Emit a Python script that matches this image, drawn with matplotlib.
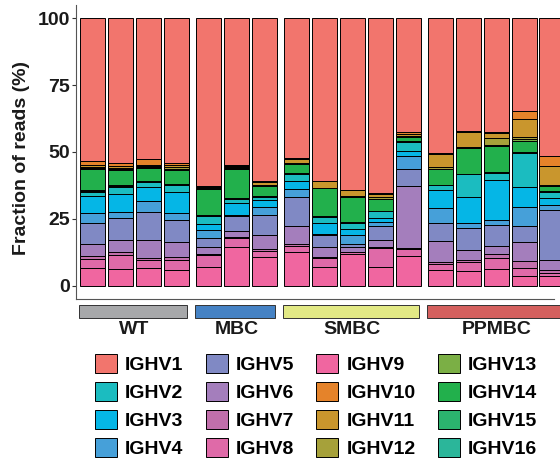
import matplotlib.pyplot as plt
import matplotlib.transforms as mtransforms
from matplotlib.patches import Rectangle, Patch

plt.rcParams['font.family'] = ['Liberation Sans', 'DejaVu Sans']
plt.rcParams['font.weight'] = 'bold'

groups = ["WT", "MBC", "SMBC", "PPMBC"]
group_sizes = [4, 3, 5, 5]
group_colors = ["#A7A8AA", "#4582C4", "#E2E985", "#D4605E"]

genes = ["IGHV%d" % i for i in range(1, 17)]
gene_colors = ["#F2756D", "#1BBCC0", "#05B6E6", "#46A0D9", "#8089C4", "#A47EBC",
               "#C16FAB", "#DF6AA8", "#F066A0", "#E5832A", "#C9962D", "#A6A13A",
               "#7BAF45", "#22B04C", "#2BB36E", "#2BB69A"]

# fraction of reads (%) per sample, WT x4, MBC x3, SMBC x5, PPMBC x5
ighv1 = [53.4, 54.0, 52.6, 54.3, 62.8, 55.0, 60.8, 52.3, 60.8, 64.2, 65.2, 42.5, 50.4, 42.3, 42.5, 34.8, 51.4]
ighv2 = [1.5, 2.9, 1.7, 2.8, 2.9, 1.5, 1.0, 2.7, 2.2, 2.3, 2.4, 3.5, 1.9, 8.4, 2.8, 12.9, 2.3]
ighv3 = [6.3, 6.5, 5.4, 8.0, 2.2, 4.3, 2.9, 2.8, 4.3, 2.1, 1.7, 1.9, 6.5, 9.7, 14.7, 7.3, 2.5]
ighv4 = [3.7, 2.2, 4.1, 2.5, 3.1, 0.4, 2.7, 3.1, 0.3, 3.4, 1.5, 4.7, 5.6, 1.9, 1.9, 7.3, 2.1]
ighv5 = [7.9, 8.5, 10.3, 8.1, 3.2, 5.9, 7.8, 10.7, 4.4, 1.2, 5.2, 6.5, 6.9, 8.1, 7.8, 5.8, 18.7]
ighv6 = [4.4, 4.3, 6.8, 5.7, 2.5, 2.0, 5.1, 6.8, 3.7, 1.9, 2.6, 23.1, 7.7, 3.8, 3.1, 7.0, 3.5]
ighv7 = [1.1, 1.2, 0.9, 1.0, 0.5, 0.4, 0.9, 1.0, 0.5, 0.2, 0.5, 0.3, 0.8, 1.0, 1.5, 2.8, 1.2]
ighv8 = [3.5, 5.2, 2.9, 3.7, 4.5, 3.5, 2.2, 2.1, 3.4, 0.4, 6.9, 2.8, 2.2, 3.1, 4.2, 3.1, 1.3]
ighv9 = [6.6, 6.2, 6.6, 6.0, 7.0, 14.4, 10.6, 12.6, 7.0, 12.0, 7.0, 11.0, 5.9, 5.6, 6.2, 3.5, 3.5]
ighv10 = [1.6, 1.3, 2.1, 0.6, 0.3, 0.3, 0.6, 0.3, 0.2, 0.2, 0.5, 0.8, 0.3, 0.4, 0.4, 2.8, 3.7]
ighv11 = [0.5, 0.5, 0.4, 0.7, 0.3, 0.3, 0.8, 1.5, 2.3, 2.2, 1.3, 0.6, 5.1, 5.4, 1.9, 6.9, 7.1]
ighv12 = [0.5, 0.5, 0.4, 0.6, 0.3, 0.3, 0.4, 0.2, 0.1, 0.1, 0.5, 0.1, 0.6, 0.3, 2.5, 0.8, 0.3]
ighv13 = [0.5, 0.5, 0.4, 0.6, 0.3, 0.3, 0.2, 0.2, 0.1, 0.1, 0.1, 0.5, 0.1, 0.2, 0.3, 0.7, 0.3]
ighv14 = [7.9, 5.7, 5.0, 5.0, 9.7, 11.0, 3.8, 3.5, 10.5, 9.5, 4.4, 1.5, 5.9, 9.6, 10.0, 4.1, 1.9]
ighv15 = [0.3, 0.3, 0.2, 0.2, 0.2, 0.2, 0.1, 0.1, 0.1, 0.1, 0.1, 0.1, 0.1, 0.1, 0.1, 0.1, 0.1]
ighv16 = [0.3, 0.2, 0.2, 0.2, 0.2, 0.2, 0.1, 0.1, 0.1, 0.1, 0.1, 0.1, 0.1, 0.1, 0.1, 0.1, 0.1]

values = [ighv1, ighv2, ighv3, ighv4, ighv5, ighv6, ighv7, ighv8, ighv9, ighv10,
          ighv11, ighv12, ighv13, ighv14, ighv15, ighv16]

# bottom -> top stacking (ggplot string order reversed)
stack_order = [9, 8, 7, 6, 5, 4, 3, 2, 16, 15, 14, 13, 12, 11, 10, 1]

# x positions with a small gap between groups
gap = 0.16
xpos = []
group_span = []
start = 0.0
for n in group_sizes:
    xs = [start + k for k in range(n)]
    xpos += xs
    group_span.append((xs[0], xs[-1]))
    start = xs[-1] + 1 + gap

fig = plt.figure(figsize=(5.6, 4.72), dpi=100)
ax = fig.add_axes([76 / 560, 1 - 299 / 472, 478 / 560, 294 / 472])

bottom = [0.0] * len(xpos)
for g in stack_order:
    vals = values[g - 1]
    ax.bar(xpos, vals, bottom=bottom, width=0.9, color=gene_colors[g - 1],
           edgecolor="black", linewidth=0.7, clip_on=False)
    bottom = [b + v for b, v in zip(bottom, vals)]

ax.set_xlim(-0.59, xpos[-1] + 0.07)
ax.set_ylim(-5, 105)
ax.set_yticks([0, 25, 50, 75, 100])
ax.set_xticks([])
ax.tick_params(axis="y", length=3, width=0.8, color="#333333", pad=1.5,
               labelsize=14, labelcolor="#1a1a1a")
for lab in ax.get_yticklabels():
    lab.set_fontweight("bold")
ax.spines["top"].set_visible(False)
ax.spines["right"].set_visible(False)
ax.spines["left"].set_color("#555555")
ax.spines["bottom"].set_color("#555555")
ax.spines["left"].set_linewidth(0.8)
ax.spines["bottom"].set_linewidth(0.8)

ax.set_ylabel("Fraction of reads (%)", fontsize=14, fontweight="bold", color="#1a1a1a")
ax.yaxis.set_label_coords(-0.096, 0.48)

# group strips under the bars
trans = mtransforms.blended_transform_factory(ax.transData, ax.transAxes)
for (x0, x1), name, col in zip(group_span, groups, group_colors):
    ax.add_patch(Rectangle((x0 - 0.5, -0.0646), (x1 - x0) + 0.9, 0.0442,
                           transform=trans, facecolor=col, edgecolor="#333333",
                           linewidth=0.7, clip_on=False))
    ax.text((x0 + x1) / 2, -0.105, name, transform=trans, ha="center", va="center",
            fontsize=14, fontweight="bold", color="#1a1a1a", clip_on=False)

handles = [Patch(facecolor=c, edgecolor="black", linewidth=0.7) for c in gene_colors]
fig.legend(handles, genes, ncol=4, loc="upper left",
           bbox_to_anchor=(95 / 560, 1 - 354 / 472), frameon=False,
           fontsize=14, handlelength=1.13, handleheight=1.13, handletextpad=0.41,
           columnspacing=1.15, labelspacing=0.4, borderpad=0, borderaxespad=0,
           prop={"weight": "bold", "size": 14})

fig.savefig("out.png", dpi=100)
